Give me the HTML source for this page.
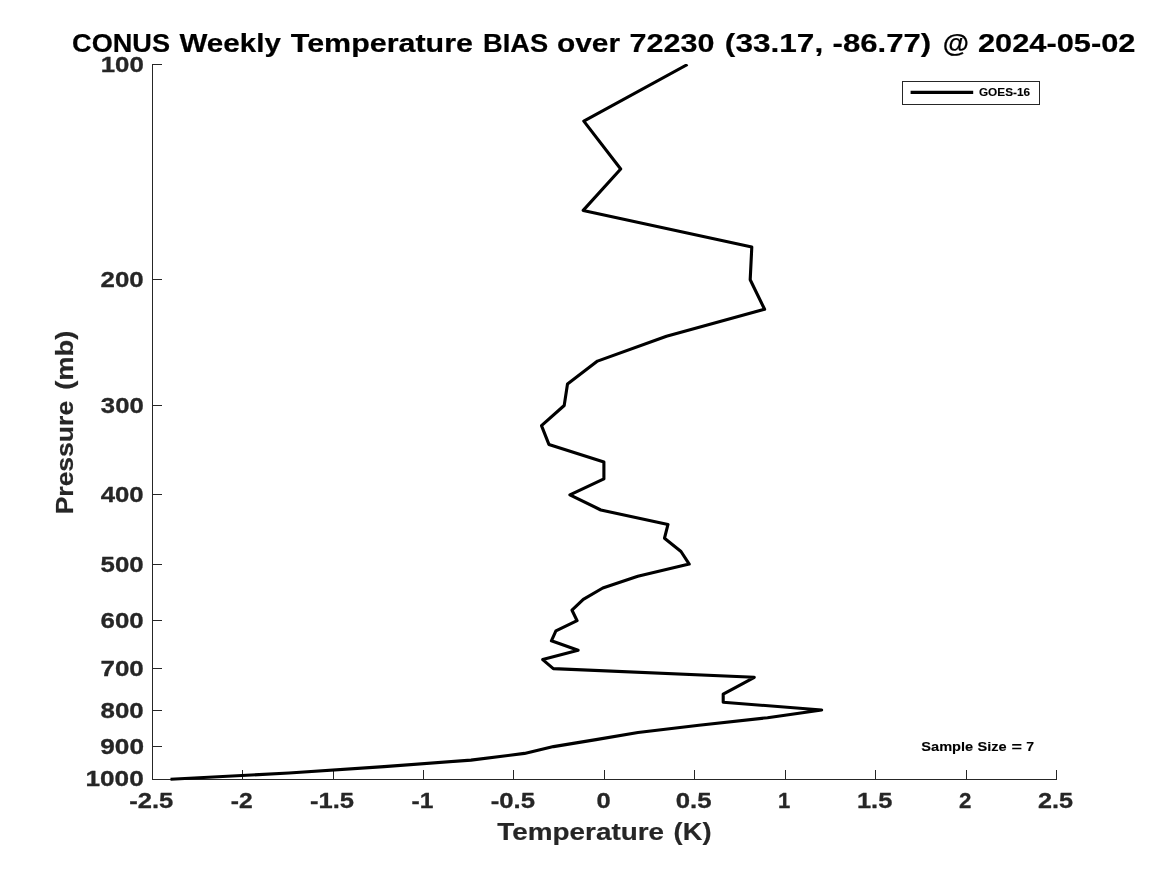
<!DOCTYPE html>
<html lang="en">
<head>
<meta charset="utf-8">
<title>CONUS Weekly Temperature BIAS over 72230</title>
<style>
html,body{margin:0;padding:0;background:#fff;}
body{width:1167px;height:875px;overflow:hidden;font-family:"Liberation Sans", sans-serif;}
svg{display:block;will-change:transform;}
svg text{font-family:"Liberation Sans", sans-serif;font-weight:bold;white-space:pre;stroke-linejoin:round;}
</style>
</head>
<body>
<svg width="1167" height="875" viewBox="0 0 1167 875">
<rect x="0" y="0" width="1167" height="875" fill="#ffffff"/>
<defs><clipPath id="plotclip"><rect x="150.5" y="64.0" width="908.0" height="717.3"/></clipPath></defs>
<!-- axes -->
<g stroke="#262626" stroke-width="1" fill="none" shape-rendering="crispEdges">
<line x1="152.5" y1="64" x2="152.5" y2="780"/>
<line x1="152" y1="779.5" x2="1057" y2="779.5"/>
<line x1="152.5" y1="64.5" x2="162" y2="64.5"/>
<line x1="152.5" y1="279.5" x2="162" y2="279.5"/>
<line x1="152.5" y1="405.5" x2="162" y2="405.5"/>
<line x1="152.5" y1="494.5" x2="162" y2="494.5"/>
<line x1="152.5" y1="564.5" x2="162" y2="564.5"/>
<line x1="152.5" y1="620.5" x2="162" y2="620.5"/>
<line x1="152.5" y1="668.5" x2="162" y2="668.5"/>
<line x1="152.5" y1="710.5" x2="162" y2="710.5"/>
<line x1="152.5" y1="746.5" x2="162" y2="746.5"/>
<line x1="152.5" y1="779.5" x2="162" y2="779.5"/>
<line x1="152.5" y1="779.5" x2="152.5" y2="770"/>
<line x1="242.5" y1="779.5" x2="242.5" y2="770"/>
<line x1="333.5" y1="779.5" x2="333.5" y2="770"/>
<line x1="423.5" y1="779.5" x2="423.5" y2="770"/>
<line x1="513.5" y1="779.5" x2="513.5" y2="770"/>
<line x1="604.5" y1="779.5" x2="604.5" y2="770"/>
<line x1="694.5" y1="779.5" x2="694.5" y2="770"/>
<line x1="785.5" y1="779.5" x2="785.5" y2="770"/>
<line x1="875.5" y1="779.5" x2="875.5" y2="770"/>
<line x1="966.5" y1="779.5" x2="966.5" y2="770"/>
<line x1="1056.5" y1="779.5" x2="1056.5" y2="770"/>
</g>
<!-- GOES-16 bias profile -->
<polyline clip-path="url(#plotclip)" points="687.5,64.5 583.8,121.1 620.7,169.0 583.2,210.4 751.8,247.0 750.2,279.7 764.6,309.3 666.5,336.3 597.5,361.1 567.5,384.1 564.2,405.5 541.5,425.6 548.9,444.4 603.9,462.1 603.9,478.9 569.9,494.9 600.8,510.0 668.0,524.4 664.5,538.2 681.0,551.5 689.2,564.1 637.8,576.3 602.8,588.0 583.3,599.3 572.0,610.2 577.1,620.7 555.9,630.9 551.4,640.8 578.1,650.3 542.7,659.6 553.3,668.6 754.3,677.3 738.6,685.8 723.2,694.1 723.2,702.2 821.7,710.0 767.5,717.7 699.0,725.2 638.0,732.5 596.0,739.6 553.5,746.6 524.5,753.4 471.0,760.1 384.0,766.6 289.0,773.0 170.5,779.3" fill="none" stroke="#000" stroke-width="3.10" stroke-linejoin="round" stroke-linecap="butt"/>
<!-- legend -->
<rect x="902.5" y="81.5" width="137" height="23" fill="#fff" stroke="#262626" stroke-width="1" shape-rendering="crispEdges"/>
<line x1="910.6" y1="92.4" x2="973.2" y2="92.4" stroke="#000" stroke-width="3.10"/>
<!-- text -->
<text id="t_title" font-size="25.85" fill="#000" stroke="#000" stroke-width="0.20"><tspan x="72.08" y="51.60" textLength="97.95" lengthAdjust="spacingAndGlyphs">CONUS</tspan> <tspan x="179.40" y="51.60" textLength="101.50" lengthAdjust="spacingAndGlyphs">Weekly</tspan> <tspan x="290.80" y="51.60" textLength="182.16" lengthAdjust="spacingAndGlyphs">Temperature</tspan> <tspan x="483.05" y="51.60" textLength="65.11" lengthAdjust="spacingAndGlyphs">BIAS</tspan> <tspan x="556.98" y="51.60" textLength="63.13" lengthAdjust="spacingAndGlyphs">over</tspan> <tspan x="629.57" y="51.60" textLength="84.81" lengthAdjust="spacingAndGlyphs">72230</tspan> <tspan x="724.89" y="51.60" textLength="98.32" lengthAdjust="spacingAndGlyphs">(33.17,</tspan> <tspan x="832.57" y="51.60" textLength="98.52" lengthAdjust="spacingAndGlyphs">-86.77)</tspan> <tspan x="942.67" y="51.60" textLength="26.20" lengthAdjust="spacingAndGlyphs">@</tspan> <tspan x="977.94" y="51.60" textLength="157.57" lengthAdjust="spacingAndGlyphs">2024-05-02</tspan></text>
<text id="t_xlabel" font-size="23.72" fill="#262626" stroke="#262626" stroke-width="0.18"><tspan x="497.30" y="839.60" textLength="166.81" lengthAdjust="spacingAndGlyphs">Temperature</tspan> <tspan x="673.62" y="839.60" textLength="37.87" lengthAdjust="spacingAndGlyphs">(K)</tspan></text>
<text id="t_ylabel" font-size="23.72" fill="#262626" stroke="#262626" stroke-width="0.18" transform="translate(73.40,0.00) rotate(-90)"><tspan x="-514.38" y="0" textLength="113.51" lengthAdjust="spacingAndGlyphs">Pressure</tspan> <tspan x="-389.86" y="0" textLength="59.21" lengthAdjust="spacingAndGlyphs">(mb)</tspan></text>
<text id="t_y100" font-size="22.60" fill="#262626" stroke="#262626" stroke-width="0.30" x="100.68" y="71.80" textLength="43.08" lengthAdjust="spacingAndGlyphs">100</text>
<text id="t_y200" font-size="22.60" fill="#262626" stroke="#262626" stroke-width="0.30" x="100.62" y="287.18" textLength="43.11" lengthAdjust="spacingAndGlyphs">200</text>
<text id="t_y300" font-size="22.60" fill="#262626" stroke="#262626" stroke-width="0.30" x="100.88" y="413.05" textLength="42.84" lengthAdjust="spacingAndGlyphs">300</text>
<text id="t_y400" font-size="22.60" fill="#262626" stroke="#262626" stroke-width="0.30" x="100.73" y="502.35" textLength="42.98" lengthAdjust="spacingAndGlyphs">400</text>
<text id="t_y500" font-size="22.60" fill="#262626" stroke="#262626" stroke-width="0.30" x="100.62" y="571.62" textLength="43.11" lengthAdjust="spacingAndGlyphs">500</text>
<text id="t_y600" font-size="22.60" fill="#262626" stroke="#262626" stroke-width="0.30" x="100.62" y="628.22" textLength="43.11" lengthAdjust="spacingAndGlyphs">600</text>
<text id="t_y700" font-size="22.60" fill="#262626" stroke="#262626" stroke-width="0.30" x="100.46" y="676.08" textLength="43.29" lengthAdjust="spacingAndGlyphs">700</text>
<text id="t_y800" font-size="22.60" fill="#262626" stroke="#262626" stroke-width="0.30" x="100.62" y="717.53" textLength="43.11" lengthAdjust="spacingAndGlyphs">800</text>
<text id="t_y900" font-size="22.60" fill="#262626" stroke="#262626" stroke-width="0.30" x="100.26" y="754.09" textLength="43.73" lengthAdjust="spacingAndGlyphs">900</text>
<text id="t_y1000" font-size="22.60" fill="#262626" stroke="#262626" stroke-width="0.30" x="85.45" y="786.00" textLength="58.30" lengthAdjust="spacingAndGlyphs">1000</text>
<text id="t_x0" font-size="22.60" fill="#262626" stroke="#262626" stroke-width="0.30" x="129.23" y="807.60" textLength="44.04" lengthAdjust="spacingAndGlyphs">-2.5</text>
<text id="t_x1" font-size="22.60" fill="#262626" stroke="#262626" stroke-width="0.30" x="230.69" y="807.60" textLength="21.87" lengthAdjust="spacingAndGlyphs">-2</text>
<text id="t_x2" font-size="22.60" fill="#262626" stroke="#262626" stroke-width="0.30" x="309.98" y="807.60" textLength="44.04" lengthAdjust="spacingAndGlyphs">-1.5</text>
<text id="t_x3" font-size="22.60" fill="#262626" stroke="#262626" stroke-width="0.30" x="411.46" y="807.60" textLength="21.83" lengthAdjust="spacingAndGlyphs">-1</text>
<text id="t_x4" font-size="22.60" fill="#262626" stroke="#262626" stroke-width="0.30" x="490.73" y="807.60" textLength="44.29" lengthAdjust="spacingAndGlyphs">-0.5</text>
<text id="t_x5" font-size="22.60" fill="#262626" stroke="#262626" stroke-width="0.30" x="596.40" y="807.60" textLength="14.20" lengthAdjust="spacingAndGlyphs">0</text>
<text id="t_x6" font-size="22.60" fill="#262626" stroke="#262626" stroke-width="0.30" x="675.73" y="807.60" textLength="35.80" lengthAdjust="spacingAndGlyphs">0.5</text>
<text id="t_x7" font-size="22.60" fill="#262626" stroke="#262626" stroke-width="0.30" x="778.12" y="807.60" textLength="12.25" lengthAdjust="spacingAndGlyphs">1</text>
<text id="t_x8" font-size="22.60" fill="#262626" stroke="#262626" stroke-width="0.30" x="856.94" y="807.60" textLength="35.36" lengthAdjust="spacingAndGlyphs">1.5</text>
<text id="t_x9" font-size="22.60" fill="#262626" stroke="#262626" stroke-width="0.30" x="958.92" y="807.60" textLength="12.41" lengthAdjust="spacingAndGlyphs">2</text>
<text id="t_x10" font-size="22.60" fill="#262626" stroke="#262626" stroke-width="0.30" x="1037.98" y="807.60" textLength="35.05" lengthAdjust="spacingAndGlyphs">2.5</text>
<text id="t_legend" font-size="10.71" fill="#000" stroke="#000" stroke-width="0.10" x="978.94" y="96.00" textLength="51.12" lengthAdjust="spacingAndGlyphs">GOES-16</text>
<text id="t_sample" font-size="12.94" fill="#000" stroke="#000" stroke-width="0.12"><tspan x="921.34" y="750.80" textLength="51.86" lengthAdjust="spacingAndGlyphs">Sample</tspan> <tspan x="977.44" y="750.80" textLength="29.18" lengthAdjust="spacingAndGlyphs">Size</tspan> <tspan x="1011.48" y="750.80" textLength="10.49" lengthAdjust="spacingAndGlyphs">=</tspan> <tspan x="1026.34" y="750.80" textLength="7.83" lengthAdjust="spacingAndGlyphs">7</tspan></text>
</svg>
</body>
</html>
